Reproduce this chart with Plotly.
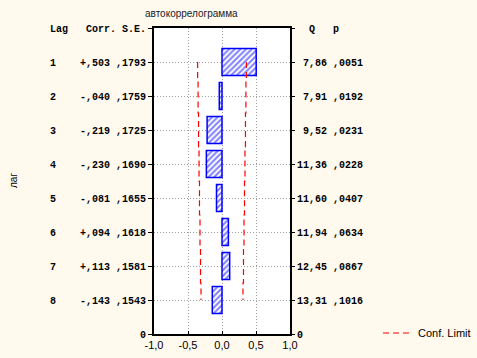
import plotly.graph_objects as go

lags = [1, 2, 3, 4, 5, 6, 7, 8]
corr = [0.503, -0.040, -0.219, -0.230, -0.081, 0.094, 0.113, -0.143]
corr_txt = ["+,503", "-,040", "-,219", "-,230", "-,081", "+,094", "+,113", "-,143"]
se = [0.1793, 0.1759, 0.1725, 0.1690, 0.1655, 0.1618, 0.1581, 0.1543]
se_txt = [",1793", ",1759", ",1725", ",1690", ",1655", ",1618", ",1581", ",1543"]
q_txt = ["7,86", "7,91", "9,52", "11,36", "11,60", "11,94", "12,45", "13,31"]
p_txt = [",0051", ",0192", ",0231", ",0228", ",0407", ",0634", ",0867", ",1016"]
x_ticks = [-1.0, -0.5, 0.0, 0.5, 1.0]
x_tick_text = ["-1,0", "-0,5", "0,0", "0,5", "1,0"]

NB = "\u00a0"
upper = [2 * s for s in se]
lower = [-2 * s for s in se]

left_vals = [0] + lags + [9]
left_text = [f"Lag{NB*3}Corr.{NB}S.E."] + [
    f"{l}{NB*4}{c}{NB}{s}" for l, c, s in zip(lags, corr_txt, se_txt)] + ["0"]
right_text = [f"{NB*2}Q{NB*3}p"] + [
    f"{q:>5}".replace(" ", NB) + NB + p for q, p in zip(q_txt, p_txt)] + ["0"]

fig = go.Figure()
fig.add_trace(go.Bar(
    x=corr, y=lags, orientation="h", width=0.8, showlegend=False,
    marker=dict(color="white", line=dict(color="#0000FF", width=1.5),
                pattern=dict(shape="/", fgcolor="#0000FF", bgcolor="white",
                             size=4, solidity=0.5)),
))
fig.add_trace(go.Scatter(
    x=lower, y=lags, mode="lines", line=dict(color="#FF0000", width=1.2, dash="6px,4px", shape="vhv"),
    name="Conf. Limit", showlegend=True,
))
fig.add_trace(go.Scatter(
    x=upper, y=lags, mode="lines", line=dict(color="#FF0000", width=1.2, dash="6px,4px", shape="vhv"),
    name="Conf. Limit", showlegend=False,
))
fig.add_trace(go.Scatter(x=[0], y=[0], yaxis="y2", mode="markers",
                         marker=dict(opacity=0), showlegend=False, hoverinfo="skip"))

BG = "#FFF9EE"
mono = dict(family="Liberation Mono", size=10, color="#000000", weight="bold")
pw = 477 - 154 - 187
ph = 358 - 28 - 24
fig.update_layout(
    width=477, height=358,
    margin=dict(l=154, r=187, t=28, b=24, autoexpand=False),
    paper_bgcolor=BG, plot_bgcolor="white",
    font=dict(family="Liberation Sans", size=11, color="#000000"),
    xaxis=dict(range=[-1, 1], tickvals=x_ticks, ticktext=x_tick_text, automargin=False,
               showgrid=True, gridcolor="#A0A0A0", griddash="1px,2px", gridwidth=1,
               zeroline=False, showline=True, linecolor="black", linewidth=2,
               mirror=True, ticks="inside", ticklen=3, tickcolor="black",
               tickfont=dict(family="Liberation Sans", size=11, color="#000000")),
    yaxis=dict(range=[9, 0], tickvals=left_vals, ticktext=left_text, automargin=False,
               showgrid=True, gridcolor="#A0A0A0", griddash="1px,2px", gridwidth=1,
               zeroline=False, showline=True, linecolor="black", linewidth=2,
               mirror=True, ticks="outside", ticklen=4, tickcolor="black",
               tickfont=mono),
    yaxis2=dict(range=[9, 0], overlaying="y", side="right", tickvals=left_vals,
                ticktext=right_text, showgrid=False, zeroline=False, automargin=False,
                ticks="outside", ticklen=4, tickcolor="black", tickfont=mono,
                showline=False),
    legend=dict(x=(378 - 154) / pw, y=(334 - 333) / ph, xanchor="left", yanchor="middle",
                bgcolor="rgba(0,0,0,0)", font=dict(family="Liberation Sans", size=11),
                itemwidth=30),
    annotations=[
        dict(text="автокоррелограмма", x=(143 - 154) / pw, y=(334 - 14) / ph,
             xref="paper", yref="paper", xanchor="left", yanchor="middle",
             showarrow=False, font=dict(family="Liberation Sans", size=10, color="#1A1A2A")),
        dict(text="лаг", textangle=-90, x=(13 - 154) / pw, y=(334 - 181) / ph,
             xref="paper", yref="paper", xanchor="center", yanchor="middle",
             showarrow=False, font=dict(family="Liberation Sans", size=10)),
    ],
)
fig.write_html("out.html", config={"displayModeBar": False},
               post_script=f"document.body.style.margin='0';document.body.style.background='{BG}';")
